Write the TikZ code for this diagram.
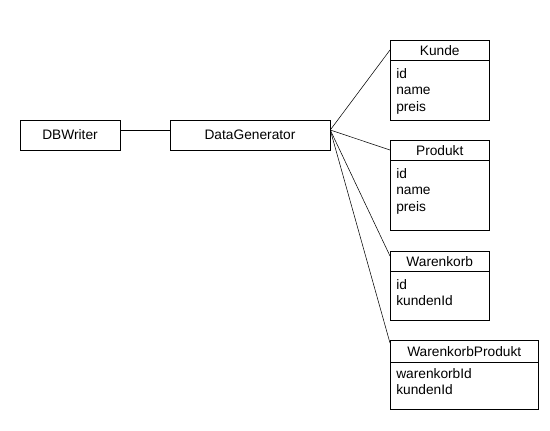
\documentclass[tikz,border=0pt]{standalone}
\usepackage{fontspec}
\setmainfont{Liberation Sans}
\usetikzlibrary{positioning,calc}
\tikzset{
    x=0.75pt,y=-0.75pt,semithick,
    box/.style ={rectangle, draw, inner sep=0pt, minimum height=22.5pt},
    cls/.style ={rectangle, draw, inner sep=0pt, anchor=north west, minimum width=74.25pt},
    title/.style = {anchor=north, inner sep=0pt, minimum height=15pt},
    attr/.style = {anchor=north west, inner sep=0pt, align=left},
    every node/.style = {font=\fontsize{10.3}{12.4}\selectfont}
}
\begin{document}
\begin{tikzpicture}
	\useasboundingbox (0,0) rectangle (550,430);
	\node[box, minimum width=75pt] (dbwriter) at (70,135) {DBWriter};
	\node[box, minimum width=120pt] (datagen) at (250,135) {DataGenerator};

	% Tabellen
	\node[cls, minimum height=60pt] (kunde) at (390,40) {};
	\node[title] (kundeT) at (kunde.north) {Kunde};
	\node[attr] (kundeA) at ([xshift=4.5pt,yshift=-21pt]kunde.north west) {id\\name\\preis};

	\node[cls, minimum height=67.5pt] (produkt) at (390,140) {};
	\node[title] (produktT) at (produkt.north) {Produkt};
	\node[attr] (produktA) at ([xshift=4.5pt,yshift=-21pt]produkt.north west) {id\\name\\preis};

	\node[cls, minimum height=51.75pt] (warenkorb) at (390,251) {};
	\node[title] (warenkorbT) at (warenkorb.north) {Warenkorb};
	\node[attr] (warenkorbA) at ([xshift=4.5pt,yshift=-21pt]warenkorb.north west) {id\\kundenId};

	\node[cls, minimum width=111pt, minimum height=51.75pt] (wkprodukt) at (390,340) {};
	\node[title, minimum height=16.5pt] (wkproduktT) at (wkprodukt.north) {WarenkorbProdukt};
	\node[attr] (wkproduktA) at ([xshift=4.5pt,yshift=-21pt]wkprodukt.north west) {warenkorbId\\kundenId};

	\foreach \t/\h in {kunde/15pt,produkt/15pt,warenkorb/15pt,wkprodukt/16.5pt}
		\draw ([yshift=-\h]\t.north west) -- ([yshift=-\h]\t.north east);

	% Verbindungen
	\coordinate (hub) at ([yshift=3.75pt]datagen.east);
	\draw ([yshift=3.75pt]dbwriter.east) -- ([yshift=3.75pt]datagen.west);
	\draw (hub) -- ([yshift=-7.5pt]kunde.north west);
	\draw (hub) -- ([yshift=-7.5pt]produkt.north west);
	\draw (hub) -- ([yshift=-3.75pt]warenkorb.north west);
	\draw (hub) -- ([yshift=-2.25pt]wkprodukt.north west);
\end{tikzpicture}
\end{document}
